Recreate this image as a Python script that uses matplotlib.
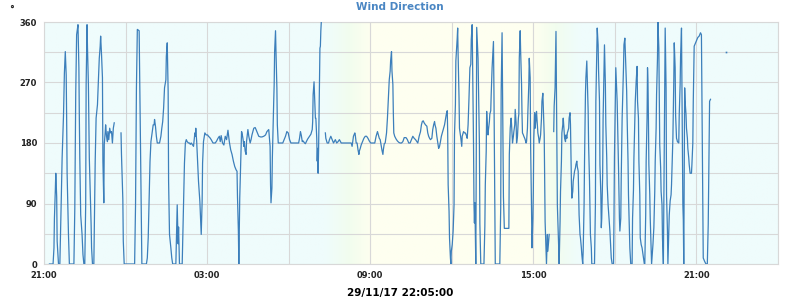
import numpy as np
import matplotlib
matplotlib.use("Agg")
import matplotlib.pyplot as plt
import matplotlib.dates as mdates
from matplotlib.colors import to_rgb
from datetime import datetime, timedelta

#-----------------------------------------------------------------------------
#   data : wind direction (deg), time in minutes after 28/11/17 21:00
#-----------------------------------------------------------------------------
start = datetime(2017, 11, 28, 21, 0)
end   = start + timedelta(hours=27)

seg_a_min = [12, 20, 22, 23, 25, 26, 28, 29, 32, 35, 36, 38,
             40, 43, 45, 47, 49, 50, 51, 54, 56, 66, 68, 70,
             72, 74, 75, 77, 78, 79, 81, 84, 86, 88, 90, 92,
             93, 95, 96, 98, 100, 102, 104, 105, 107, 110, 111, 113,
             115, 118, 120, 122, 124, 125, 127, 129, 130, 132, 133, 135,
             136, 138, 140, 141, 143, 145, 147, 149, 151, 153, 155]
seg_a_deg = [0, 0, 24, 68, 110, 135, 100, 34, 0, 0, 31, 93,
             158, 220, 284, 316, 281, 215, 135, 44, 0, 0, 83, 252,
             341, 351, 356, 292, 217, 158, 73, 44, 14, 0, 0, 88,
             267, 356, 321, 267, 158, 108, 58, 24, 0, 0, 51, 153,
             217, 237, 272, 306, 324, 339, 311, 277, 153, 91, 178, 195,
             207, 190, 182, 197, 185, 202, 195, 197, 180, 202, 210]

seg_b_min = [170, 171, 174, 175, 177, 200, 202, 204, 206, 210, 211, 213,
             215, 216, 226, 228, 230, 232, 234, 236, 238, 241, 243, 244,
             246, 248, 250, 255, 258, 260, 262, 264, 266, 269, 270, 272,
             274, 275, 277, 280, 282, 284, 291, 294, 296, 297, 299, 305,
             308, 310, 312, 314, 316, 319, 321, 323, 325, 327, 330, 331,
             333, 334, 335, 337, 339, 341, 344, 346, 347, 349, 350, 352,
             355, 358, 361, 363, 366, 369, 373, 378, 381, 384, 387, 389,
             391, 394, 397, 400, 403, 406, 409, 412, 415, 418, 421, 424,
             426, 427, 429, 430, 431, 432, 434, 436, 437, 439, 440, 441,
             442, 444, 446, 447, 449, 450, 452, 455, 457, 459, 461, 463,
             466, 468, 471, 474, 478, 481, 485, 489, 492, 496, 497, 499,
             500, 501, 503, 504, 506, 507, 508, 509, 511, 512, 514, 515,
             517, 527, 530, 533, 536, 539, 542, 545, 562, 564, 566, 568,
             570, 572, 575, 577, 579, 582, 586, 589, 592, 593, 594, 596,
             597, 599, 600, 602, 603, 604, 605, 606, 607, 608, 609, 610,
             611, 612]
seg_b_deg = [195, 163, 96, 34, 0, 0, 86, 262, 349, 347, 292, 175,
             58, 0, 0, 9, 39, 93, 153, 182, 192, 207, 207, 215,
             205, 190, 180, 180, 190, 202, 212, 232, 262, 274, 309, 329,
             257, 123, 44, 24, 9, 0, 0, 88, 30, 55, 0, 0,
             91, 150, 180, 185, 182, 180, 180, 178, 180, 178, 175, 182,
             195, 190, 202, 182, 153, 123, 93, 61, 44, 93, 150, 182,
             195, 192, 192, 190, 188, 185, 180, 180, 183, 187, 190, 182,
             191, 180, 177, 190, 185, 199, 182, 170, 163, 153, 145, 140,
             138, 101, 49, 0, 49, 98, 148, 197, 195, 187, 182, 175,
             182, 168, 163, 182, 195, 200, 190, 180, 185, 192, 197, 202,
             203, 200, 195, 190, 189, 189, 190, 192, 197, 200, 192, 175,
             118, 91, 113, 158, 217, 242, 267, 316, 347, 316, 262, 207,
             180, 180, 185, 190, 197, 195, 185, 180, 180, 187, 197, 191,
             182, 183, 180, 179, 182, 186, 190, 193, 200, 212, 252, 271,
             252, 217, 217, 187, 153, 172, 135, 168, 217, 267, 321, 324,
             347, 360]

seg_c_min = [621, 622, 625, 628, 630, 633, 636, 639, 643, 646, 649, 652,
             656, 667, 674, 678, 680, 681, 683, 686, 687, 689, 691, 693,
             695, 696, 698, 700, 703, 706, 709, 712, 715, 718, 721, 730,
             733, 736, 738, 740, 742, 744, 746, 748, 749, 751, 753, 756,
             758, 760, 762, 764, 765, 767, 768, 770, 771, 772, 774, 777,
             780, 783, 786, 789, 792, 795, 799, 802, 805, 808, 811, 814,
             817, 820, 823, 825, 828, 831, 833, 835, 837, 839, 842, 845,
             847, 849, 851, 853, 856, 858, 860, 862, 863, 865, 867, 870,
             871, 873, 875, 877, 879, 881, 884, 886, 888, 890, 891, 892,
             894, 895, 897, 898, 899, 901, 903, 905, 906, 908, 909, 912,
             913, 914, 916, 917, 919, 920, 922, 923, 926, 928, 930, 933,
             934, 936, 938, 940, 942, 943, 945, 946, 948, 949, 950, 951,
             953, 954, 955, 958, 959, 961, 962, 964, 971, 973, 974, 976,
             977, 978, 980, 981, 983, 984, 986, 987, 989, 990, 992, 993,
             995, 996, 1006, 1008, 1009, 1011, 1012, 1014, 1016, 1026, 1027, 1029,
             1031, 1032, 1034, 1036, 1037, 1039, 1040, 1042, 1043, 1045, 1047, 1048,
             1049, 1051, 1052, 1054, 1055, 1056, 1058, 1059, 1061, 1062, 1064, 1065,
             1067, 1068, 1070, 1071, 1073, 1074, 1076, 1077, 1079, 1080, 1081, 1083,
             1084, 1086, 1087, 1089, 1090, 1092, 1093, 1095, 1096, 1098, 1099, 1101,
             1102, 1104, 1105, 1106, 1108, 1109, 1111, 1112, 1115]
seg_c_deg = [195, 187, 180, 180, 185, 190, 185, 180, 185, 180, 182, 185,
             180, 180, 180, 180, 175, 180, 190, 195, 192, 180, 180, 170,
             163, 168, 172, 177, 182, 187, 190, 190, 187, 183, 180, 180,
             190, 197, 192, 187, 185, 177, 169, 163, 170, 179, 180, 195,
             217, 247, 274, 287, 302, 316, 287, 267, 225, 195, 190, 186,
             183, 181, 180, 180, 182, 188, 188, 185, 180, 180, 185, 190,
             187, 185, 182, 180, 190, 197, 207, 212, 213, 210, 207, 205,
             195, 190, 187, 185, 187, 200, 207, 212, 207, 202, 190, 177,
             172, 175, 182, 190, 195, 200, 207, 215, 223, 228, 195, 118,
             78, 39, 9, 0, 19, 29, 49, 88, 192, 237, 302, 336,
             351, 311, 247, 202, 192, 187, 175, 190, 197, 195, 195, 190,
             187, 207, 247, 292, 297, 334, 356, 297, 177, 88, 61, 91,
             0, 150, 352, 306, 262, 177, 60, 0, 0, 56, 118, 168,
             227, 212, 192, 200, 212, 223, 228, 252, 292, 306, 331, 262,
             88, 0, 0, 83, 257, 344, 262, 100, 53, 53, 163, 202,
             217, 207, 180, 190, 197, 207, 230, 210, 180, 190, 217, 223,
             306, 347, 316, 267, 223, 195, 192, 190, 187, 185, 180, 182,
             202, 227, 267, 306, 277, 177, 83, 24, 68, 109, 187, 225,
             202, 217, 227, 207, 195, 187, 180, 187, 192, 217, 242, 254,
             232, 192, 128, 63, 24, 0, 44, 19, 44]

seg_d_min = [1125, 1126, 1128, 1129, 1130, 1131, 1133, 1134, 1136, 1137, 1139, 1140,
             1142, 1143, 1145, 1146, 1148, 1149, 1151, 1152, 1154, 1155, 1156, 1158,
             1159, 1161, 1162, 1164, 1165, 1167, 1168, 1170, 1171, 1173, 1174, 1176,
             1177, 1179, 1180, 1181, 1183, 1184, 1186, 1187, 1189, 1190, 1192, 1193,
             1195, 1196, 1198, 1199, 1201, 1202, 1204, 1205, 1206, 1208, 1209, 1215,
             1217, 1218, 1220, 1221, 1223, 1224, 1226, 1227, 1229, 1230, 1231, 1233,
             1234, 1236, 1237, 1239, 1240, 1242, 1243, 1245, 1247, 1249, 1251, 1252,
             1254, 1257, 1258, 1259, 1261, 1262, 1264, 1265, 1267, 1268, 1270, 1271,
             1273, 1274, 1276, 1279, 1280, 1282, 1283, 1284, 1286, 1287, 1289, 1290,
             1292, 1293, 1295, 1298, 1299, 1301, 1302, 1304, 1305, 1307, 1309, 1310,
             1312, 1313, 1315, 1316, 1318, 1320, 1322, 1323, 1325, 1326, 1328, 1329,
             1331, 1332, 1333, 1334, 1335, 1337, 1338, 1340, 1341, 1343, 1344, 1346,
             1348, 1349, 1351, 1352, 1354, 1355, 1357, 1358, 1359, 1361, 1362, 1364,
             1365, 1367, 1368, 1370, 1371, 1373, 1374, 1376, 1377, 1379, 1380, 1382,
             1384, 1385, 1387, 1388, 1390, 1391, 1393, 1394, 1396, 1397, 1398, 1401,
             1402, 1404, 1405, 1407, 1408, 1410, 1411, 1412, 1414, 1415, 1417, 1418,
             1420, 1421, 1423, 1424, 1426, 1429, 1430, 1432, 1433, 1435, 1438, 1440,
             1443, 1446, 1449, 1451, 1452, 1454, 1455, 1458, 1461, 1464, 1466, 1468,
             1469, 1471]
seg_d_deg = [197, 235, 262, 306, 346, 261, 88, 68, 24, 0, 63, 108,
             153, 195, 207, 217, 197, 187, 182, 192, 187, 195, 197, 202,
             217, 225, 207, 123, 98, 108, 123, 133, 138, 143, 148, 153,
             145, 138, 108, 73, 44, 39, 24, 14, 0, 19, 88, 153,
             252, 277, 302, 277, 227, 177, 123, 78, 44, 24, 0, 0,
             88, 242, 316, 351, 326, 287, 242, 148, 103, 54, 68, 133,
             217, 287, 326, 267, 207, 158, 118, 88, 68, 49, 24, 9,
             0, 0, 68, 158, 247, 292, 257, 242, 177, 143, 68, 49,
             68, 128, 217, 292, 326, 336, 316, 292, 257, 217, 153, 103,
             54, 24, 0, 0, 68, 110, 158, 217, 242, 272, 294, 242,
             217, 153, 103, 39, 29, 24, 14, 9, 0, 0, 73, 153,
             217, 292, 272, 217, 148, 103, 68, 24, 0, 19, 29, 54,
             108, 153, 202, 252, 306, 360, 321, 252, 177, 143, 108, 88,
             39, 0, 83, 262, 351, 262, 103, 49, 0, 49, 73, 94,
             103, 118, 163, 187, 272, 329, 292, 222, 187, 185, 182, 180,
             222, 267, 309, 351, 262, 88, 66, 0, 262, 242, 222, 202,
             187, 172, 158, 148, 135, 135, 148, 180, 242, 324, 329, 332,
             337, 339, 344, 341, 259, 93, 9, 4, 0, 0, 59, 182,
             242, 245]

seg_e_min = [1506]
seg_e_deg = [316]

# background: night / twilight / day colour stops (minutes after 21:00)
bg_min = [0, 620, 675, 722, 1081, 1128, 1183, 1620]
bg_col = ['#effcfc', '#effcfc', '#f2fdee', '#fefff0', '#fefff0', '#f2fdee', '#effcfc', '#effcfc']

line_col  = '#3c7fbb'
title_col = '#4a86c3'
grid_col  = '#d8d8d8'

#-----------------------------------------------------------------------------
#   plot
#-----------------------------------------------------------------------------
plt.rcParams['font.family'] = 'DejaVu Sans'
plt.rcParams['font.weight'] = 'bold'

fig = plt.figure(figsize=(8, 3), dpi=100)
ax  = fig.add_axes([44/800, 36/300, 734/800, 242/300])

# gradient background
xs  = np.linspace(0, 1620, 500)
rgb = np.array([to_rgb(c) for c in bg_col])
img = np.stack([np.interp(xs, bg_min, rgb[:, k]) for k in range(3)], axis=-1)
ax.imshow(img[np.newaxis, :, :], extent=[mdates.date2num(start), mdates.date2num(end), 0, 360],
          aspect='auto', zorder=0, interpolation='bilinear')

segments = [(seg_a_min, seg_a_deg), (seg_b_min, seg_b_deg), (seg_c_min, seg_c_deg),
            (seg_d_min, seg_d_deg), (seg_e_min, seg_e_deg)]
for mins, degs in segments:
    tt = [start + timedelta(minutes=m) for m in mins]
    if len(mins) == 1:
        ax.plot(tt, degs, ls='none', marker='s', ms=1.2, mew=0, color=line_col, zorder=3)
    else:
        ax.plot(tt, degs, color=line_col, lw=0.9, zorder=3)

ax.set_xlim(start, end)
ax.set_ylim(0, 360)
ax.set_yticks([0, 90, 180, 270, 360])
ax.set_yticks([45, 135, 225, 315], minor=True)
ax.xaxis.set_major_locator(mdates.HourLocator(byhour=[3, 9, 15, 21]))
ax.xaxis.set_minor_locator(mdates.HourLocator(byhour=[0, 6, 12, 18]))
ax.xaxis.set_major_formatter(mdates.DateFormatter('%H:%M'))
ax.grid(which='both', color=grid_col, lw=0.8, zorder=1)
ax.set_axisbelow(False)
ax.tick_params(which='both', length=0, labelsize=6, pad=5, colors='#222222')
for s in ax.spines.values():
    s.set_color(grid_col)
    s.set_linewidth(0.8)

fig.text(0.5, 1 - 7/300, 'Wind Direction', ha='center', va='center',
         color=title_col, fontsize=7.5, fontweight='bold')
fig.text(12/800, 1 - 10/300, '°', ha='center', va='center', fontsize=7, color='#222222')
fig.text(0.5, 1 - 293/300, '29/11/17 22:05:00', ha='center', va='center',
         fontsize=7.5, fontweight='bold', color='black')

fig.savefig('out.png', dpi=100)
